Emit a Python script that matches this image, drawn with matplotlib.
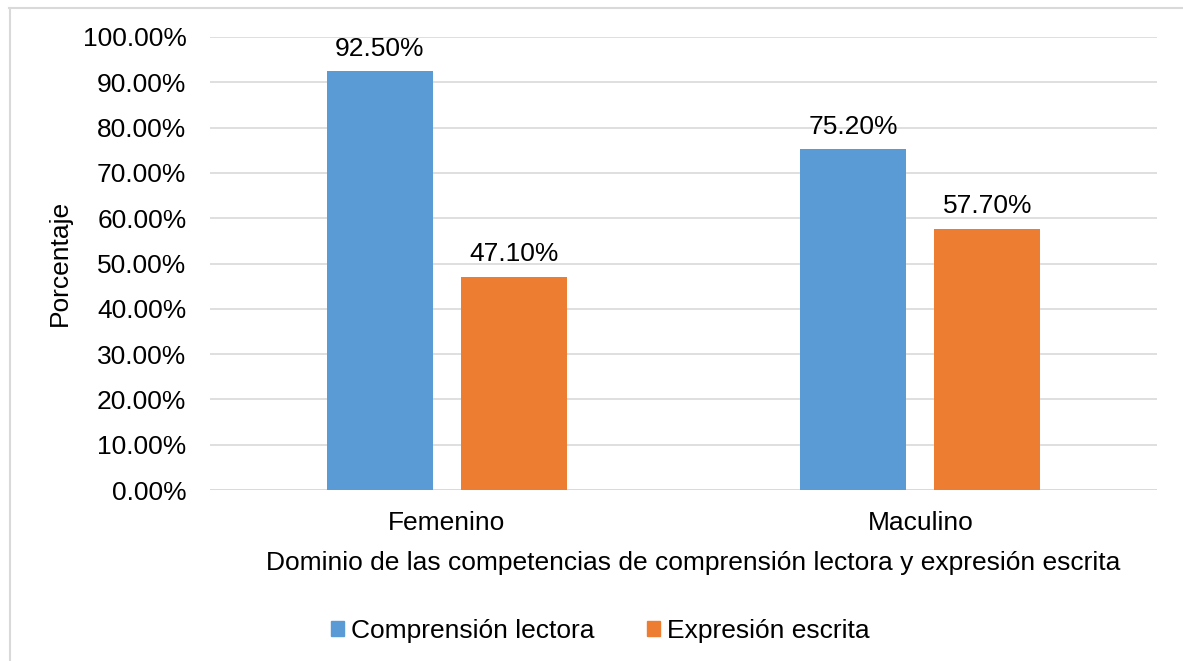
import matplotlib
matplotlib.use("Agg")
import matplotlib.pyplot as plt
from matplotlib.lines import Line2D
from matplotlib.ticker import FuncFormatter, MultipleLocator
import numpy as np

categories = ["Femenino", "Maculino"]
series_names = ["Comprensión lectora", "Expresión escrita"]
comprension = [92.5, 75.2]
expresion = [47.1, 57.7]
colors = ["#5B9BD5", "#ED7D31"]

plt.rcParams['font.family'] = ['Liberation Sans', 'DejaVu Sans']
FS = 19

W, H = 1183, 661
fig = plt.figure(figsize=(W / 100, H / 100), dpi=100)
ax = fig.add_axes([210 / W, 1 - 490 / H, (1157 - 210) / W, (490 - 37) / H])

x = np.arange(len(categories))
bw = 0.224
off = 0.1415
b1 = ax.bar(x - off, comprension, bw, color=colors[0], label=series_names[0], zorder=3)
b2 = ax.bar(x + off, expresion, bw, color=colors[1], label=series_names[1], zorder=3)

for bars, vals in ((b1, comprension), (b2, expresion)):
    for r, v in zip(bars, vals):
        ax.annotate(f"{v:.2f}%", (r.get_x() + r.get_width() / 2, v),
                    xytext=(0, 7.5), textcoords="offset points",
                    ha="center", va="bottom", fontsize=FS, color="#000000")

ax.set_xlim(-0.5, 1.5)
ax.set_ylim(0, 100)
ax.yaxis.set_major_locator(MultipleLocator(10))
ax.yaxis.set_major_formatter(FuncFormatter(lambda v, p: f"{v:.2f}%"))
ax.set_xticks(x)
ax.set_xticklabels(categories)
ax.tick_params(axis="both", length=0, labelsize=FS, colors="#000000")
ax.tick_params(axis="y", pad=17)
ax.tick_params(axis="x", pad=15)
ax.grid(axis="y", color="#D9D9D9", linewidth=1.2, zorder=0)
for s in ax.spines.values():
    s.set_visible(False)
ax.axhline(0, color="#D9D9D9", linewidth=1.2, zorder=1)

fig.text(693 / W, 1 - 563 / H, "Dominio de las competencias de comprensión lectora y expresión escrita",
         ha="center", va="center", fontsize=FS)
fig.text(60 / W, 1 - 263 / H, "Porcentaje", rotation=90, ha="center", va="center", fontsize=FS)

handles = [plt.Rectangle((0, 0), 1, 1, color=c) for c in colors]
fig.legend(handles, series_names, loc="center", bbox_to_anchor=(600 / W, 1 - 631 / H),
           ncol=2, frameon=False, fontsize=FS, handlelength=0.5, handleheight=0.5,
           handletextpad=0.25, columnspacing=2.0)

fig.add_artist(Line2D([9 / W, 1], [1 - 8 / H, 1 - 8 / H], color="#D9D9D9", linewidth=1.5,
                      transform=fig.transFigure))
fig.add_artist(Line2D([9.5 / W, 9.5 / W], [0, 1 - 8 / H], color="#D9D9D9", linewidth=1.5,
                      transform=fig.transFigure))

fig.savefig("out.png", dpi=100, facecolor="white")
